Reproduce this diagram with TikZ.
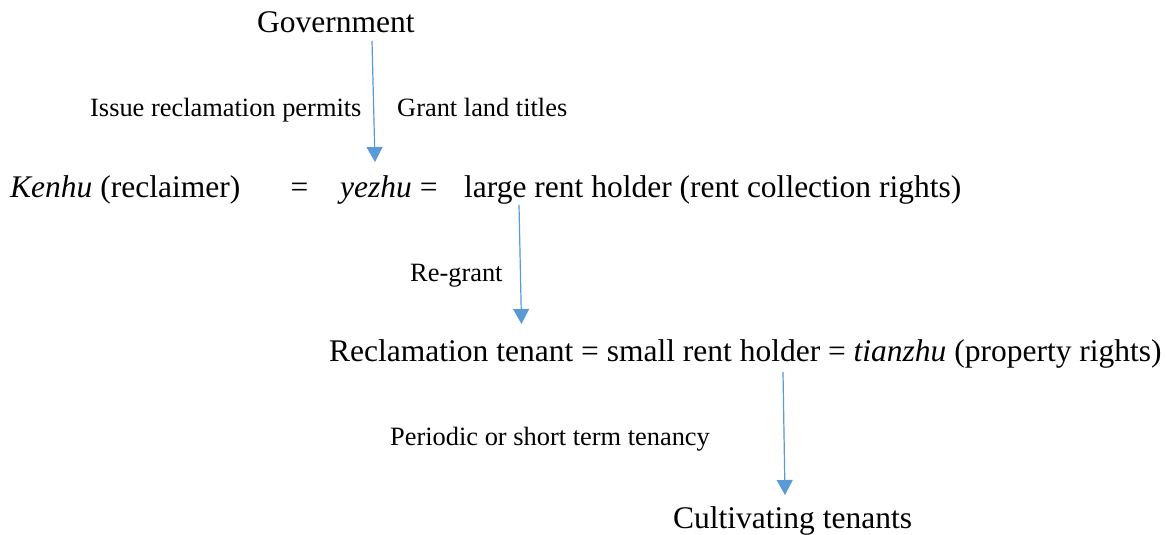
\documentclass[tikz,border=0pt]{standalone}
\usepackage{fontspec}
\setmainfont{Liberation Serif}
\usetikzlibrary{arrows.meta}
\definecolor{arrblue}{HTML}{5B9BD5}
\tikzset{
  big/.style={inner sep=0pt, anchor=base west, font=\fontsize{31.5}{36}\selectfont},
  lbl/.style={inner sep=0pt, anchor=base west, font=\fontsize{26.4}{30}\selectfont},
  arr/.style={draw=arrblue, line width=1.2pt, -{Triangle[length=15pt,width=16pt]}, fill=arrblue}
}
\begin{document}
\begin{tikzpicture}[x=1pt,y=-1pt]
\useasboundingbox (0,0) rectangle (1167,535);
\node[big] (gov) at (257,33) {Government};
\node[lbl] (l1) at (90,116) {Issue reclamation permits};
\node[lbl] (l2) at (397,116) {Grant land titles};
\node[big] (kenhu) at (10,197) {\textit{Kenhu} (reclaimer)};
\node[big, anchor=base] (eq1) at (299.5,197) {=};
\node[big] (yezhu) at (340,197) {\textit{yezhu} =};
\node[big] (large) at (464,197) {large rent holder (rent collection rights)};
\node[lbl] (l3) at (410,281) {Re-grant};
\node[big] (recl) at (329,361) {Reclamation tenant = small rent holder = \textit{tianzhu} (property rights)};
\node[lbl] (l4) at (390,445) {Periodic or short term tenancy};
\node[big] (cult) at (673,528) {Cultivating tenants};
\coordinate (a1s) at (372,41);
\coordinate (a1e) at (375,162);
\coordinate (a2s) at (519,205);
\coordinate (a2e) at (521.5,324);
\coordinate (a3s) at (783,372);
\coordinate (a3e) at (785,495);
\draw[arr] (a1s) -- (a1e);
\draw[arr] (a2s) -- (a2e);
\draw[arr] (a3s) -- (a3e);
\end{tikzpicture}
\end{document}
